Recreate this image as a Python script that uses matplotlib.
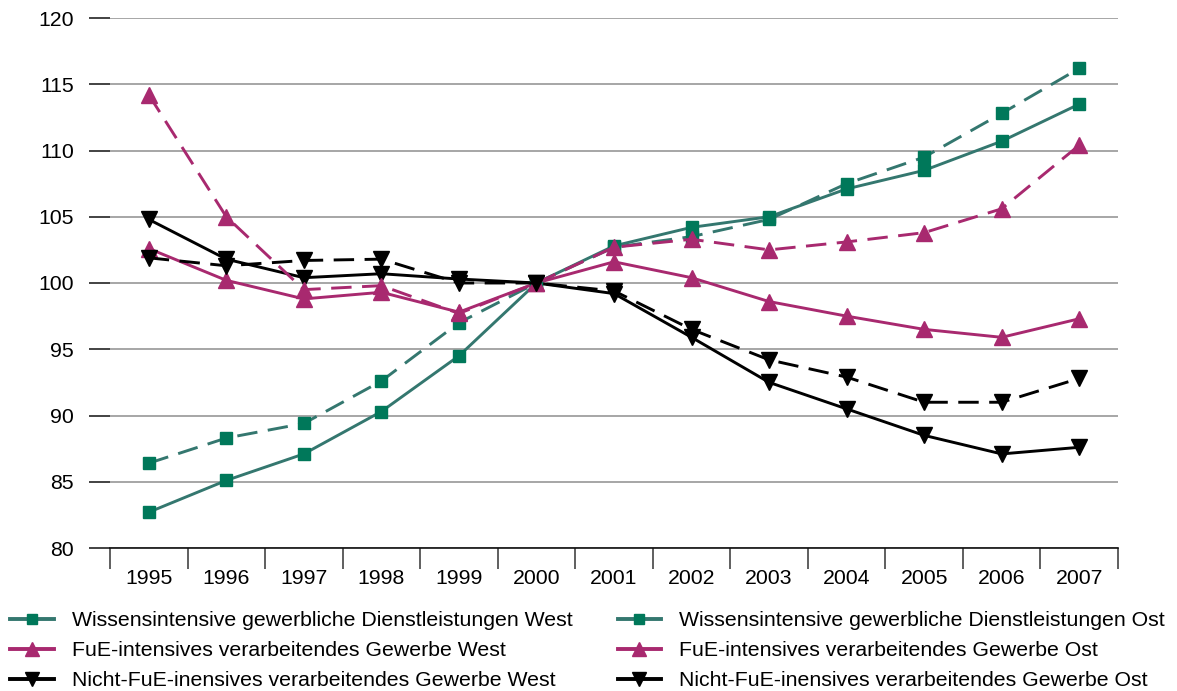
import matplotlib
matplotlib.use("Agg")
import matplotlib.pyplot as plt
from matplotlib.lines import Line2D

plt.rcParams['font.family'] = ['Liberation Sans', 'DejaVu Sans']

years = ['1995', '1996', '1997', '1998', '1999', '2000', '2001',
         '2002', '2003', '2004', '2005', '2006', '2007']

wiss_west = [82.7, 85.1, 87.1, 90.3, 94.5, 100.0, 102.8, 104.2, 105.0, 107.1, 108.5, 110.7, 113.5]
wiss_ost = [86.4, 88.3, 89.4, 92.6, 97.0, 100.0, 102.7, 103.5, 104.8, 107.5, 109.5, 112.8, 116.2]
fue_west = [102.6, 100.2, 98.8, 99.3, 97.8, 100.0, 101.6, 100.4, 98.6, 97.5, 96.5, 95.9, 97.3]
fue_ost = [114.2, 105.0, 99.5, 99.8, 97.7, 100.0, 102.7, 103.3, 102.5, 103.1, 103.8, 105.6, 110.4]
nfue_west = [104.8, 101.8, 100.4, 100.7, 100.3, 100.0, 99.2, 95.9, 92.5, 90.5, 88.5, 87.1, 87.6]
nfue_ost = [101.9, 101.3, 101.7, 101.8, 100.0, 100.0, 99.4, 96.5, 94.2, 92.9, 91.0, 91.0, 92.8]

labels = [
    'Wissensintensive gewerbliche Dienstleistungen West',
    'FuE-intensives verarbeitendes Gewerbe West',
    'Nicht-FuE-inensives verarbeitendes Gewerbe West',
    'Wissensintensive gewerbliche Dienstleistungen Ost',
    'FuE-intensives verarbeitendes Gewerbe Ost',
    'Nicht-FuE-inensives verarbeitendes Gewerbe Ost',
]

teal_line = '#34776f'
teal_mark = '#00785a'
magenta = '#a8296f'
black = '#000000'

fig = plt.figure(figsize=(11.77, 6.91), dpi=100)
ax = fig.add_axes([110/1177, 1-548/691, (1118-110)/1177, (548-18)/691])

x = list(range(len(years)))
lw = 2.1
dash = (7, 3.6)

series = [
    (wiss_west, teal_line, teal_mark, 's', 9, '-'),
    (fue_west, magenta, magenta, '^', 11.5, '-'),
    (nfue_west, black, black, 'v', 11.5, '-'),
    (wiss_ost, teal_line, teal_mark, 's', 9, '--'),
    (fue_ost, magenta, magenta, '^', 11.5, '--'),
    (nfue_ost, black, black, 'v', 11.5, '--'),
]

handles = []
for (vals, lc, mc, m, ms, ls), lab in zip(series, labels):
    kw = dict(color=lc, lw=lw, marker=m, markersize=ms, markerfacecolor=mc,
              markeredgecolor=mc, zorder=3)
    if ls == '--':
        ax.plot(x, vals, linestyle=(0, dash), **kw)
    else:
        ax.plot(x, vals, linestyle='-', **kw)
    handles.append(Line2D([], [], color=lc, lw=2.8, marker=m, markersize=ms-1.5,
                          markerfacecolor=mc, markeredgecolor=mc, label=lab))

ax.set_ylim(80, 120)
ax.set_xlim(-0.5, len(years) - 0.5)
ax.set_yticks(range(80, 121, 5))
ax.yaxis.grid(True, color='#a6a6a6', lw=1.4)
ax.set_axisbelow(True)
ax.tick_params(axis='y', length=15, width=1.2, color='#222222', labelsize=15.3, pad=11)

ax.set_xticks(x)
ax.set_xticklabels(years)
ax.tick_params(axis='x', which='major', length=0, labelsize=15.3, pad=15)
ax.set_xticks([i - 0.5 for i in range(len(years) + 1)], minor=True)
ax.tick_params(axis='x', which='minor', length=15, width=1.2, color='#444444')

for s in ['left', 'right', 'top']:
    ax.spines[s].set_visible(False)
ax.spines['bottom'].set_color('#111111')
ax.spines['bottom'].set_linewidth(1.2)

fig.legend(handles=handles, ncol=2, loc='upper left', bbox_to_anchor=(10/1177, 1-611/691),
           frameon=False, fontsize=15.3, handlelength=2.05, handletextpad=0.85,
           labelspacing=0.52, columnspacing=2.13, borderaxespad=0, borderpad=0)

fig.savefig('out.png', dpi=100)
